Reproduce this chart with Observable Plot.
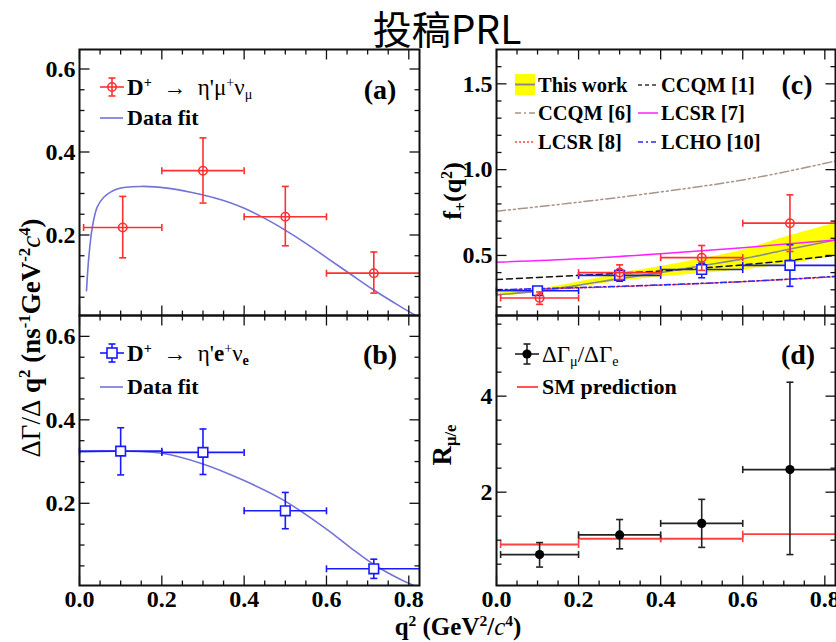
<!DOCTYPE html>
<html><head><meta charset="utf-8">
<script src="https://cdn.jsdelivr.net/npm/d3@7"></script>
<script src="https://cdn.jsdelivr.net/npm/@observablehq/plot@0.6"></script>
<style>
body{margin:0;background:#fff;}
#root{position:relative;width:836px;height:642px;overflow:hidden;font-family:"Liberation Serif","Times New Roman",serif;color:#000;}
.t{position:absolute;white-space:nowrap;line-height:1;}
.t sup{font-size:62%;vertical-align:0.55em;line-height:0;}
.t sub{font-size:62%;vertical-align:-0.3em;line-height:0;}
.rot{position:absolute;white-space:nowrap;line-height:1;transform:translate(-50%,-50%) rotate(-90deg);font-weight:bold;}
.rot sup{font-size:62%;vertical-align:0.55em;line-height:0;}
.rot sub{font-size:62%;vertical-align:-0.3em;line-height:0;}
svg.smp{position:absolute;overflow:visible;}
</style></head><body><div id="root"></div>
<script>
// ---------------- data ----------------
const xDomain = [0, 0.826];
const xMajor = [0, 0.2, 0.4, 0.6, 0.8];
const xMinor = [0.05, 0.1, 0.15, 0.25, 0.3, 0.35, 0.45, 0.5, 0.55, 0.65, 0.7, 0.75];

// bins
const binMuLo = [0.01, 0.2, 0.4, 0.6];
const binELo = [0.0, 0.2, 0.4, 0.6];
const binHi = [0.2, 0.4, 0.6, 0.826];
const muX = [0.105, 0.3, 0.5, 0.715];
const eX = [0.1, 0.3, 0.5, 0.715];

// (a) dGamma/dq2 for mu
const rateMu = [0.218, 0.355, 0.244, 0.108];
const rateMuLo = [0.145, 0.277, 0.174, 0.060];
const rateMuHi = [0.293, 0.434, 0.317, 0.159];
const fitMuQ = [0.017, 0.0226, 0.031, 0.043, 0.059, 0.0915, 0.148, 0.213, 0.298, 0.35, 0.399, 0.45, 0.4975, 0.55, 0.601, 0.658, 0.714, 0.779, 0.822];
const fitMuV = [0.066, 0.146, 0.218, 0.267, 0.291, 0.311, 0.317, 0.313, 0.297, 0.283, 0.265, 0.240, 0.213, 0.180, 0.145, 0.106, 0.068, 0.028, 0.003];

// (b) dGamma/dq2 for e
const rateE = [0.325, 0.322, 0.182, 0.043];
const rateELo = [0.268, 0.269, 0.139, 0.020];
const rateEHi = [0.381, 0.378, 0.226, 0.066];
const fitEQ = [0, 0.1, 0.2, 0.298, 0.4, 0.4975, 0.6, 0.658, 0.714, 0.779, 0.82];
const fitEV = [0.323, 0.325, 0.32, 0.295, 0.2545, 0.2065, 0.138, 0.094, 0.054, 0.018, 0.0];

// (c) form factor
const ffMu = [0.252, 0.400, 0.487, 0.688];
const ffMuLo = [0.215, 0.360, 0.413, 0.523];
const ffMuHi = [0.287, 0.445, 0.558, 0.853];
const ffE = [0.294, 0.384, 0.418, 0.442];
const ffELo = [0.282, 0.350, 0.370, 0.320];
const ffEHi = [0.306, 0.417, 0.455, 0.562];
const bandQ = [0, 0.1, 0.2, 0.3, 0.4, 0.5, 0.6, 0.7, 0.826];
const bandCentral = [0.270, 0.292, 0.326, 0.365, 0.400, 0.440, 0.480, 0.530, 0.590];
const bandLow = [0.262, 0.282, 0.315, 0.350, 0.375, 0.395, 0.415, 0.445, 0.500];
const bandHigh = [0.278, 0.302, 0.345, 0.395, 0.435, 0.480, 0.530, 0.605, 0.688];
const theoryQ = [0, 0.2, 0.4, 0.6, 0.826];
const ccqm1 = [0.360, 0.384, 0.410, 0.445, 0.500];
const ccqm6 = [0.758, 0.810, 0.870, 0.940, 1.050];
const lcsr7 = [0.460, 0.480, 0.510, 0.545, 0.590];
const lcsr8 = [0.298, 0.311, 0.327, 0.347, 0.376];
const lcho10 = [0.300, 0.313, 0.328, 0.348, 0.378];

// (d) ratio
const ratio = [0.70, 1.11, 1.35, 2.47];
const ratioLo = [0.44, 0.82, 0.85, 0.70];
const ratioHi = [0.95, 1.43, 1.85, 4.29];
const smPred = [0.91, 1.03, 1.03, 1.125];

// axis tick values
const rateMajor = [0.2, 0.4, 0.6];
const rateMinor = [0.05, 0.1, 0.15, 0.25, 0.3, 0.35, 0.45, 0.5, 0.55];
const ffMajor = [0.5, 1.0, 1.5];
const ffMinor = [0.2, 0.3, 0.4, 0.6, 0.7, 0.8, 0.9, 1.1, 1.2, 1.3, 1.4, 1.6];
const rMajor = [2, 4];
const rMinor = [0.5, 1, 1.5, 2.5, 3, 3.5, 4.5, 5, 5.5];

// ---------------- helpers ----------------
const RED = "#ff3030", BLUE = "#1a1aff", FIT = "#7474d8";
const seg = (x1, y1, x2, y2) => ({draw(ctx) { ctx.moveTo(x1, y1); ctx.lineTo(x2, y2); }});
const vcap = seg(0, -3.5, 0, 3.5), hcap = seg(-3.5, 0, 3.5, 0);

function frameTicks(yDom, yMaj, yMin) {
  const inY = a => a.filter(v => v > yDom[0] && v < yDom[1]);
  const M = 10, m = 5;
  const mk = (data, xf, yf, sym) => Plot.dot(data, {x: xf, y: yf, symbol: sym, r: 1, stroke: "#111", strokeWidth: 1.3, fill: "none"});
  return [
    mk(xMajor, d => d, () => yDom[0], seg(0, 0, 0, -M)),
    mk(xMinor, d => d, () => yDom[0], seg(0, 0, 0, -m)),
    mk(xMajor, d => d, () => yDom[1], seg(0, 0, 0, M)),
    mk(xMinor, d => d, () => yDom[1], seg(0, 0, 0, m)),
    mk(inY(yMaj), () => xDomain[0], d => d, seg(0, 0, M, 0)),
    mk(inY(yMin), () => xDomain[0], d => d, seg(0, 0, m, 0)),
    mk(inY(yMaj), () => xDomain[1], d => d, seg(0, 0, -M, 0)),
    mk(inY(yMin), () => xDomain[1], d => d, seg(0, 0, -m, 0)),
    Plot.frame({stroke: "#111", strokeWidth: 2})
  ];
}

function rows(xs, lo, hi, ys, ylo, yhi) {
  return xs.map((x, i) => ({x, xlo: lo[i], xhi: hi[i], y: ys[i], ylo: ylo[i], yhi: yhi[i]}));
}

function errMarks(data, color, marker) {
  const o = {stroke: color, strokeWidth: 1.6};
  return [
    Plot.ruleY(data, {y: "y", x1: "xlo", x2: "xhi", ...o}),
    Plot.ruleX(data, {x: "x", y1: "ylo", y2: "yhi", ...o}),
    Plot.dot(data, {x: "xlo", y: "y", symbol: vcap, r: 1, fill: "none", ...o}),
    Plot.dot(data.filter(d => d.xhi < xDomain[1]), {x: "xhi", y: "y", symbol: vcap, r: 1, fill: "none", ...o}),
    Plot.dot(data, {x: "x", y: "ylo", symbol: hcap, r: 1, fill: "none", ...o}),
    Plot.dot(data, {x: "x", y: "yhi", symbol: hcap, r: 1, fill: "none", ...o}),
    marker === "circle" ? Plot.dot(data, {x: "x", y: "y", symbol: "circle", r: 4.2, fill: "none", ...o})
    : marker === "square" ? Plot.dot(data, {x: "x", y: "y", symbol: "square", r: 5.4, fill: "white", ...o})
    : Plot.dot(data, {x: "x", y: "y", symbol: "circle", r: 4.6, fill: "#000", stroke: "none"})
  ];
}

const root = document.getElementById("root");
const baseStyle = {background: "transparent", fontFamily: "'Liberation Serif', 'Times New Roman', serif", fontSize: "24px", fontWeight: "bold", overflow: "visible", maxWidth: "none", color: "#000"};

function panel({left, top, width, height, mL, mR, mT, mB, yDom, yMaj, yMin, yFmt, bottomAxis, marks}) {
  const svg = Plot.plot({
    width, height, marginLeft: mL, marginRight: mR, marginTop: mT, marginBottom: mB,
    style: baseStyle,
    x: {domain: xDomain, label: null, axis: bottomAxis ? undefined : null},
    y: {domain: yDom, label: null},
    marks: [
      ...marks,
      ...frameTicks(yDom, yMaj, yMin),
      Plot.axisY(yMaj.filter(v => v > yDom[0] && v < yDom[1]), {anchor: "left", tickSize: 0, tickPadding: 4, tickFormat: yFmt}),
      ...(bottomAxis ? [Plot.axisX(xMajor, {anchor: "bottom", tickSize: 0, tickPadding: 4, tickFormat: d3.format(".1f")})] : [])
    ]
  });
  svg.style.position = "absolute";
  svg.style.left = left + "px";
  svg.style.top = top + "px";
  root.appendChild(svg);
}

const lineOf = (qs, vs) => qs.map((q, i) => ({q, v: vs[i]}));

// ---------------- panels ----------------
const yA = [0.006, 0.647], yB = [0.003, 0.650], yC = [0.150, 1.700], yD = [0.056, 5.68];

panel({left: 0, top: 0, width: 420, height: 316, mL: 79, mR: 1, mT: 49, mB: 1,
  yDom: yA, yMaj: rateMajor, yMin: rateMinor, yFmt: d3.format(".1f"), bottomAxis: false,
  marks: [
    Plot.line(lineOf(fitMuQ, fitMuV), {x: "q", y: "v", stroke: FIT, strokeWidth: 1.6, curve: "catmull-rom", clip: true}),
    ...errMarks(rows(muX, binMuLo, binHi, rateMu, rateMuLo, rateMuHi), RED, "circle")
  ]});

panel({left: 0, top: 315, width: 420, height: 327, mL: 79, mR: 1, mT: 0, mB: 57,
  yDom: yB, yMaj: rateMajor, yMin: rateMinor, yFmt: d3.format(".1f"), bottomAxis: true,
  marks: [
    Plot.line(lineOf(fitEQ, fitEV), {x: "q", y: "v", stroke: FIT, strokeWidth: 1.6, curve: "catmull-rom", clip: true}),
    ...errMarks(rows(eX, binELo, binHi, rateE, rateELo, rateEHi), BLUE, "square")
  ]});

const band = bandQ.map((q, i) => ({q, lo: bandLow[i], hi: bandHigh[i], c: bandCentral[i]}));
panel({left: 420, top: 0, width: 416, height: 316, mL: 76, mR: 1, mT: 49, mB: 1,
  yDom: yC, yMaj: ffMajor, yMin: ffMinor, yFmt: d3.format(".1f"), bottomAxis: false,
  marks: [
    Plot.areaY(band, {x: "q", y1: "lo", y2: "hi", fill: "#ffff00", curve: "monotone-x"}),
    Plot.line(band, {x: "q", y: "c", stroke: "#8a8a8a", strokeWidth: 1.6, curve: "monotone-x"}),
    Plot.line(lineOf(theoryQ, ccqm6), {x: "q", y: "v", stroke: "#a89488", strokeWidth: 1.5, strokeDasharray: "9,3,2,3,2,3", curve: "monotone-x"}),
    Plot.line(lineOf(theoryQ, lcsr7), {x: "q", y: "v", stroke: "#ff22ff", strokeWidth: 1.5, curve: "monotone-x"}),
    Plot.line(lineOf(theoryQ, ccqm1), {x: "q", y: "v", stroke: "#111", strokeWidth: 1.5, strokeDasharray: "6,4", curve: "monotone-x"}),
    Plot.line(lineOf(theoryQ, lcsr8), {x: "q", y: "v", stroke: "#ff4040", strokeWidth: 1.5, strokeDasharray: "2,2", curve: "monotone-x"}),
    Plot.line(lineOf(theoryQ, lcho10), {x: "q", y: "v", stroke: "#2a2aff", strokeWidth: 1.5, strokeDasharray: "6,3,2,3", curve: "monotone-x"}),
    ...errMarks(rows(eX, binELo, binHi, ffE, ffELo, ffEHi), BLUE, "square"),
    ...errMarks(rows(muX, binMuLo, binHi, ffMu, ffMuLo, ffMuHi), RED, "circle")
  ]});

const smRows = binMuLo.map((lo, i) => ({xlo: lo, xhi: binHi[i], y: smPred[i]}));
panel({left: 420, top: 315, width: 416, height: 327, mL: 76, mR: 1, mT: 0, mB: 57,
  yDom: yD, yMaj: rMajor, yMin: rMinor, yFmt: d3.format("d"), bottomAxis: true,
  marks: [
    Plot.ruleY(smRows, {y: "y", x1: "xlo", x2: "xhi", stroke: "#ff4040", strokeWidth: 1.8}),
    Plot.dot(smRows, {x: "xlo", y: "y", symbol: vcap, r: 1, stroke: "#ff4040", strokeWidth: 1.6}),
    Plot.dot(smRows.filter(d => d.xhi < xDomain[1]), {x: "xhi", y: "y", symbol: vcap, r: 1, stroke: "#ff4040", strokeWidth: 1.6}),
    ...errMarks(rows(muX, binMuLo, binHi, ratio, ratioLo, ratioHi), "#222", "dot")
  ]});

// ---------------- texts & legends ----------------
function text(html, left, cy, size, extra = "") {
  const d = document.createElement("div");
  d.className = "t";
  d.style.cssText = `left:${left}px;top:${cy - 0.51 * size}px;font-size:${size}px;${extra}`;
  d.innerHTML = html;
  root.appendChild(d);
  return d;
}
function rot(html, cx, cy, size) {
  const d = document.createElement("div");
  d.className = "rot";
  d.style.cssText = `left:${cx}px;top:${cy}px;font-size:${size}px;`;
  d.innerHTML = html;
  root.appendChild(d);
}
function sample(left, top, w, h, inner) {
  root.insertAdjacentHTML("beforeend", `<svg class="smp" style="left:${left}px;top:${top}px" width="${w}" height="${h}">${inner}</svg>`);
}

// title
text("投稿PRL", 447, 27.5, 39, "font-family:'Noto Sans CJK SC',sans-serif;transform:translateX(-50%);");

// axis titles
rot(`<span style="font-weight:normal">ΔΓ/Δ</span> q<sup>2</sup> (ns<sup>-1</sup>GeV<sup>-2</sup><i style="font-weight:normal">c</i><sup>4</sup>)`, 31, 338, 27);
rot(`f<sub>+</sub>(q<sup>2</sup>)`, 453, 191, 26);
rot(`R<sub>μ/e</sub>`, 442, 445, 27);
text(`q<sup>2</sup> (GeV<sup>2</sup>/<i style="font-weight:normal">c</i><sup>4</sup>)`, 458, 627, 25, "font-weight:bold;transform:translateX(-50%);");

// legend (a)
const errSample = (c, mk) => `<line x1="0" y1="12" x2="24" y2="12" stroke="${c}" stroke-width="1.6"/><line x1="12" y1="3" x2="12" y2="21" stroke="${c}" stroke-width="1.6"/><line x1="8.5" y1="3" x2="15.5" y2="3" stroke="${c}" stroke-width="1.6"/><line x1="8.5" y1="21" x2="15.5" y2="21" stroke="${c}" stroke-width="1.6"/>` + mk;
sample(100, 75, 24, 24, errSample(RED, `<circle cx="12" cy="12" r="4.2" fill="none" stroke="${RED}" stroke-width="1.6"/>`));
text(`<b>D<sup>+</sup></b>&nbsp;&nbsp;→&nbsp;&nbsp;η'μ<sup>+</sup>ν<sub>μ</sub>`, 127, 88, 23);
sample(100, 108, 24, 20, `<line x1="0" y1="10" x2="23" y2="10" stroke="${FIT}" stroke-width="1.6"/>`);
text(`Data fit`, 127, 118, 22, "font-weight:bold;");
text(`(a)`, 380, 90, 28, "font-weight:bold;transform:translateX(-50%);");

// legend (b)
sample(100, 341, 24, 24, errSample(BLUE, `<rect x="7" y="7" width="10" height="10" fill="white" stroke="${BLUE}" stroke-width="1.6"/>`));
text(`<b>D<sup>+</sup></b>&nbsp;&nbsp;→&nbsp;&nbsp;η'<b>e</b><sup>+</sup>ν<sub><b>e</b></sub>`, 127, 354, 23);
sample(100, 377, 24, 20, `<line x1="0" y1="10" x2="23" y2="10" stroke="${FIT}" stroke-width="1.6"/>`);
text(`Data fit`, 127, 387, 22, "font-weight:bold;");
text(`(b)`, 380, 355, 28, "font-weight:bold;transform:translateX(-50%);");

// legend (c)
const LF = 20.5;
sample(515, 74, 20, 21, `<rect x="0" y="0" width="20" height="21" fill="#ffff00"/><line x1="0" y1="10.5" x2="20" y2="10.5" stroke="#8a8a8a" stroke-width="2"/>`);
text(`This work`, 538, 85, LF, "font-weight:bold;");
sample(638, 75, 20, 20, `<line x1="0" y1="10" x2="20" y2="10" stroke="#333" stroke-width="1.5" stroke-dasharray="4,3"/>`);
text(`CCQM [1]`, 661, 85, LF, "font-weight:bold;");
sample(515, 103, 20, 20, `<line x1="0" y1="10" x2="20" y2="10" stroke="#a89488" stroke-width="1.5" stroke-dasharray="6,3,2,3"/>`);
text(`CCQM [6]`, 538, 113, LF, "font-weight:bold;");
sample(638, 103, 20, 20, `<line x1="0" y1="10" x2="20" y2="10" stroke="#ff22ff" stroke-width="1.5"/>`);
text(`LCSR [7]`, 661, 113, LF, "font-weight:bold;");
sample(515, 132, 20, 20, `<line x1="0" y1="10" x2="20" y2="10" stroke="#ff4040" stroke-width="1.5" stroke-dasharray="2,2"/>`);
text(`LCSR [8]`, 538, 142, LF, "font-weight:bold;");
sample(638, 132, 20, 20, `<line x1="0" y1="10" x2="20" y2="10" stroke="#2a2aff" stroke-width="1.5" stroke-dasharray="5,3,2,3"/>`);
text(`LCHO [10]`, 661, 142, LF, "font-weight:bold;");
text(`(c)`, 797, 85, 28, "font-weight:bold;transform:translateX(-50%);");

// legend (d)
sample(515, 342, 24, 24, `<line x1="0" y1="12" x2="24" y2="12" stroke="#222" stroke-width="1.6"/><line x1="12" y1="2" x2="12" y2="22" stroke="#222" stroke-width="1.6"/><line x1="8.5" y1="2" x2="15.5" y2="2" stroke="#222" stroke-width="1.6"/><line x1="8.5" y1="22" x2="15.5" y2="22" stroke="#222" stroke-width="1.6"/><circle cx="12" cy="12" r="4.6" fill="#000"/>`);
text(`ΔΓ<sub>μ</sub>/ΔΓ<sub>e</sub>`, 542, 355, 23);
sample(517, 377, 22, 20, `<line x1="0" y1="10" x2="21" y2="10" stroke="#ff4040" stroke-width="1.8"/>`);
text(`SM prediction`, 542, 387, 22, "font-weight:bold;");
text(`(d)`, 798, 355, 28, "font-weight:bold;transform:translateX(-50%);");
</script></body></html>
